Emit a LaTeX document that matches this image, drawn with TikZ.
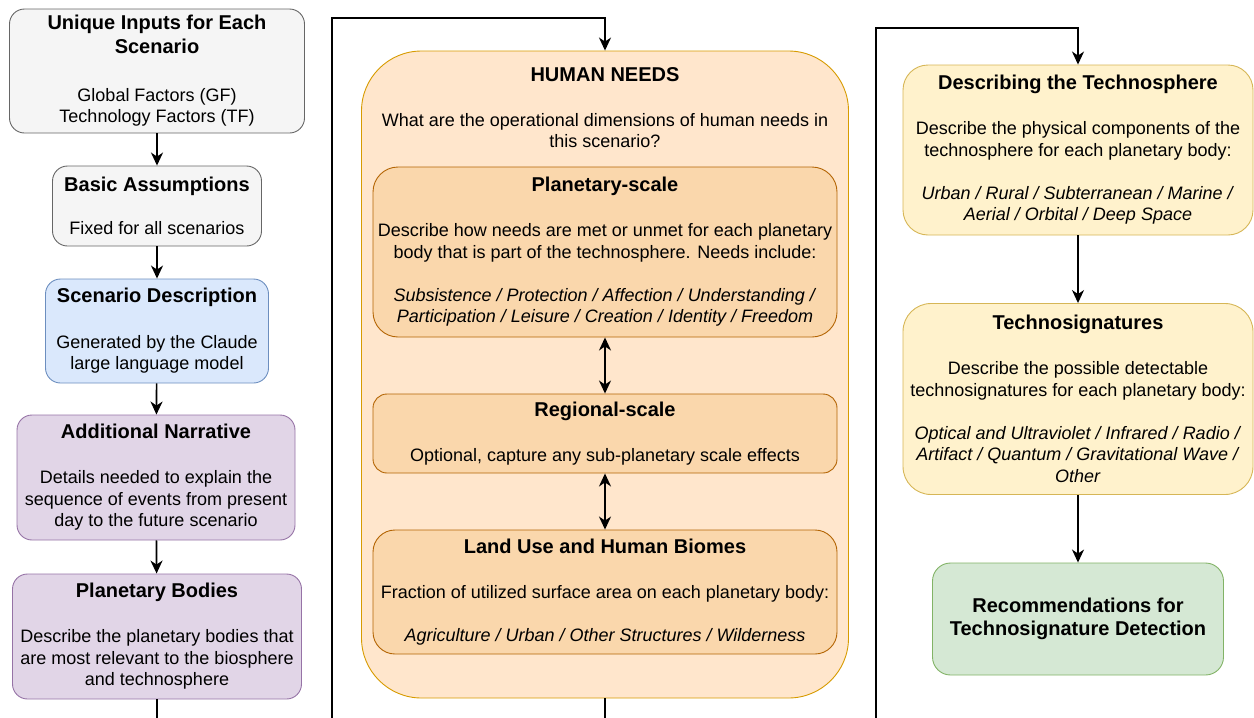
\documentclass[tikz,border=0pt]{standalone}
\usepackage{fontspec}
\setmainfont{Liberation Sans}
\usetikzlibrary{arrows.meta}
\definecolor{greyfill}{HTML}{F5F5F5}
\definecolor{greyline}{HTML}{666666}
\definecolor{bluefill}{HTML}{DAE8FC}
\definecolor{blueline}{HTML}{6C8EBF}
\definecolor{purplefill}{HTML}{E1D5E7}
\definecolor{purpleline}{HTML}{9673A6}
\definecolor{needsfill}{HTML}{FFE6CC}
\definecolor{needsline}{HTML}{D79B00}
\definecolor{scalefill}{HTML}{FAD7AC}
\definecolor{scaleline}{HTML}{B46504}
\definecolor{techfill}{HTML}{FFF2CC}
\definecolor{techline}{HTML}{D6B656}
\definecolor{recfill}{HTML}{D5E8D4}
\definecolor{recline}{HTML}{82B366}
\newcommand{\hd}[1]{{\fontsize{20}{24}\selectfont\bfseries #1}}

\begin{document}
\begin{tikzpicture}[x=1pt,y=-1pt,
  box/.style={draw,line width=0.9pt,align=center,inner sep=0pt,rounded corners=#1,
    font=\fontsize{18}{21.6}\selectfont},
  box/.default=15pt,
  greybox/.style={box,fill=greyfill,draw=greyline},
  bluebox/.style={box,fill=bluefill,draw=blueline},
  purplebox/.style={box,fill=purplefill,draw=purpleline},
  scalebox/.style={box=#1,fill=scalefill,draw=scaleline},
  techbox/.style={box=#1,fill=techfill,draw=techline},
  arr/.style={-{Stealth[length=13pt,width=12pt,inset=4pt]},line width=1.7pt},
  twoarr/.style={{Stealth[length=13pt,width=12pt,inset=4pt]}-{Stealth[length=13pt,width=12pt,inset=4pt]},line width=1.7pt}]
  \useasboundingbox (0,0) rectangle (1254,718);

  \node (inputs) at (157,71) [greybox,minimum width=295pt,minimum height=124pt]
    {\hd{Unique Inputs for Each}\\[2.4pt]\hd{Scenario}\\[26pt]Global Factors (GF)\\Technology Factors (TF)};
  \node (basic) at (157,206) [greybox,minimum width=209pt,minimum height=80pt]
    {\hd{Basic Assumptions}\\[21pt]Fixed for all scenarios};
  \node (scen) at (157,331) [bluebox,minimum width=223pt,minimum height=104pt]
    {\hd{Scenario Description}\\[24pt]Generated by the Claude\\large language model};
  \node (narr) at (156,477.5) [purplebox,minimum width=278pt,minimum height=125pt]
    {\hd{Additional Narrative}\\[23pt]Details needed to explain the\\sequence of events from present\\day to the future scenario};
  \node (bodies) at (157,636.5) [purplebox,minimum width=289pt,minimum height=125pt]
    {\hd{Planetary Bodies}\\[23pt]Describe the planetary bodies that\\are most relevant to the biosphere\\and technosphere};

  \node (needs) at (605,374.5) [box=60pt,fill=needsfill,draw=needsline,minimum width=487pt,minimum height=647pt] {};
  \node (needsq) at (605,108) [align=center,font=\fontsize{18}{21.6}\selectfont]
    {\hd{HUMAN NEEDS}\\[23pt]What are the operational dimensions of human needs in\\this scenario?};
  \node (pscale) at (605,252) [scalebox=25pt,minimum width=464pt,minimum height=170pt]
    {\hd{Planetary-scale}\\[23pt]Describe how needs are met or unmet for each planetary\\body that is part of the technosphere. Needs include:\\[21.6pt]
     \textit{Subsistence / Protection / Affection / Understanding /}\\\textit{Participation / Leisure / Creation / Identity / Freedom}};
  \node (rscale) at (605,433.5) [scalebox=14pt,minimum width=464pt,minimum height=79pt]
    {\hd{Regional-scale}\\[23pt]Optional, capture any sub-planetary scale effects};
  \node (land) at (605,592) [scalebox=22pt,minimum width=464pt,minimum height=124pt]
    {\hd{Land Use and Human Biomes}\\[23pt]Fraction of utilized surface area on each planetary body:\\[21.6pt]
     \textit{Agriculture / Urban / Other Structures / Wilderness}};

  \node (tech) at (1078,150) [techbox=25pt,minimum width=350pt,minimum height=170pt]
    {\hd{Describing the Technosphere}\\[23pt]Describe the physical components of the\\technosphere for each planetary body:\\[21.6pt]
     \textit{Urban / Rural / Subterranean / Marine /}\\\textit{Aerial / Orbital / Deep Space}};
  \node (tsig) at (1078,399) [techbox=28pt,minimum width=350pt,minimum height=191pt]
    {\hd{Technosignatures}\\[23pt]Describe the possible detectable\\technosignatures for each planetary body:\\[21.6pt]
     \textit{Optical and Ultraviolet / Infrared / Radio /}\\\textit{Artifact / Quantum / Gravitational Wave /}\\\textit{Other}};
  \node (recom) at (1078,619) [box=18pt,fill=recfill,draw=recline,minimum width=291pt,minimum height=112pt]
    {\hd{Recommendations for}\\[1pt]\hd{Technosignature Detection}};

  \foreach \a/\b in {inputs/basic,basic/scen,scen/narr,narr/bodies,tech/tsig,tsig/recom}
    \draw[arr] (\a) -- (\b);
  \foreach \a/\b in {pscale/rscale,rscale/land}
    \draw[twoarr] (\a) -- (\b);

  \coordinate (lowA) at (332,745);
  \coordinate (topA) at (332,18);
  \coordinate (lowB) at (876,745);
  \coordinate (topB) at (876,28);
  \draw[arr] (bodies.south) |- (lowA) -- (topA) -| (needs.north);
  \draw[arr] (needs.south) |- (lowB) -- (topB) -| (tech.north);
\end{tikzpicture}
\end{document}
